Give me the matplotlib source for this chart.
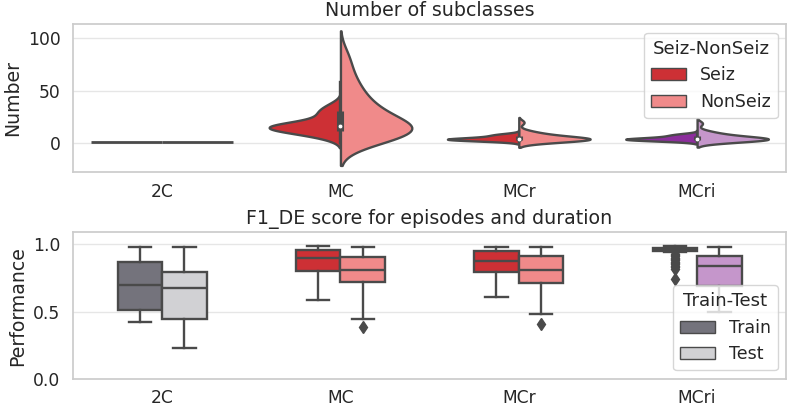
import numpy as np
import matplotlib
matplotlib.use('Agg')
import matplotlib.pyplot as plt
from matplotlib.patches import Patch

# categories
categories = ['2C', 'MC', 'MCr', 'MCri']

# number of subclasses (Seiz / NonSeiz) per category
seiz_2c = [1, 1, 1, 1, 1, 1]
nonseiz_2c = [1, 1, 1, 1, 1, 1]
seiz_mc = [5, 8, 10, 11, 12, 13, 14, 15, 15, 16, 16, 17, 17, 18, 19, 21, 25, 28, 30, 33, 37]
nonseiz_mc = [0, 2, 3, 5, 6, 7, 8, 9, 10, 11, 12, 12, 13, 14, 14, 15, 16, 17, 18, 19,
              20, 21, 23, 25, 27, 29, 31, 33, 35, 37, 40, 43, 46, 50, 54, 58, 63, 70, 78, 86]
seiz_mcr = [2, 3, 3, 4, 4, 4, 4, 5, 5, 6, 7, 8, 9]
nonseiz_mcr = [1, 2, 2, 3, 3, 3, 4, 4, 4, 4, 5, 5, 5, 6, 6, 7, 8, 9, 10, 12, 20]
seiz_mcri = [2, 3, 3, 4, 4, 4, 4, 5, 5, 6, 7, 8, 9]
nonseiz_mcri = [1, 2, 2, 3, 3, 3, 4, 4, 4, 4, 5, 5, 5, 6, 6, 7, 8, 9, 10, 12, 19]

seiz_all = [seiz_2c, seiz_mc, seiz_mcr, seiz_mcri]
nonseiz_all = [nonseiz_2c, nonseiz_mc, nonseiz_mcr, nonseiz_mcri]

# F1_DE box statistics (Train / Test) per category
train_whislo = [0.42, 0.59, 0.61, 0.94]
train_q1 = [0.515, 0.805, 0.795, 0.952]
train_med = [0.695, 0.895, 0.878, 0.963]
train_q3 = [0.868, 0.955, 0.948, 0.975]
train_whishi = [0.98, 0.985, 0.982, 0.985]
train_fliers = [[], [], [], [0.93, 0.92, 0.91, 0.90, 0.89, 0.88, 0.87, 0.86, 0.85, 0.84, 0.83, 0.82, 0.74]]

test_whislo = [0.23, 0.448, 0.48, 0.50]
test_q1 = [0.443, 0.719, 0.714, 0.694]
test_med = [0.677, 0.812, 0.812, 0.837]
test_q3 = [0.792, 0.903, 0.911, 0.916]
test_whishi = [0.98, 0.977, 0.98, 0.98]
test_fliers = [[], [0.386], [0.406], []]

# colours
c_dark = ['#74737c', '#cd3035', '#cd3035', '#8c2e9c']
c_light = ['#d1d1d4', '#f08a8a', '#f08a8a', '#c596cb']
gray = '#4a4a4a'
lw = 1.7

plt.rcParams.update({
    'font.family': 'DejaVu Sans',
    'font.size': 12.3,
    'text.color': '#262626',
    'axes.labelcolor': '#262626',
    'xtick.color': '#262626',
    'ytick.color': '#262626',
    'axes.edgecolor': '#cccccc',
    'axes.linewidth': 1.25,
    'grid.color': '#e6e6e6',
    'grid.linewidth': 1.0,
})


def kde(data, gridsize=100, cut=2):
    data = np.asarray(data, float)
    bw = data.std(ddof=1) * len(data) ** (-1 / 5)
    support = np.linspace(data.min() - cut * bw, data.max() + cut * bw, gridsize)
    dens = np.exp(-0.5 * ((support[:, None] - data[None, :]) / bw) ** 2).sum(axis=1)
    return support, dens / dens.max()


fig = plt.figure(figsize=(7.89, 4.08), dpi=100)
ax1 = fig.add_axes([0.0925, 0.578, 0.904, 0.363])
ax2 = fig.add_axes([0.0925, 0.071, 0.904, 0.360])

# violins (split: Seiz left, NonSeiz right)
for i in range(len(categories)):
    halves = [(seiz_all[i], c_dark[i], -1), (nonseiz_all[i], c_light[i], 1)]
    for vals, col, sgn in halves:
        vals = np.asarray(vals, float)
        if np.ptp(vals) == 0:
            ax1.plot([i, i + sgn * 0.4], [vals[0], vals[0]], color=gray, lw=2, solid_capstyle='butt')
            continue
        y, d = kde(vals)
        ax1.fill_betweenx(y, i, i + sgn * 0.4 * d, facecolor=col, edgecolor=gray, lw=lw, zorder=2)
    allv = np.concatenate([seiz_all[i], nonseiz_all[i]]).astype(float)
    if np.ptp(allv) == 0:
        continue
    q25, q50, q75 = np.percentile(allv, [25, 50, 75])
    lim = 1.5 * (q75 - q25)
    h1 = allv[allv >= q25 - lim].min()
    h2 = allv[allv <= q75 + lim].max()
    ax1.plot([i, i], [h1, h2], color=gray, lw=lw, zorder=3)
    ax1.plot([i, i], [q25, q75], color=gray, lw=lw * 3, zorder=3, solid_capstyle='butt')
    ax1.scatter([i], [q50], s=(lw * 2) ** 2, color='white', edgecolor=gray, lw=0.5, zorder=4)

ax1.set_title('Number of subclasses', fontsize=13.7)
ax1.set_ylabel('Number', fontsize=13.6)
ax1.legend(handles=[Patch(facecolor=c_dark[1], edgecolor=gray, label='Seiz'),
                    Patch(facecolor=c_light[1], edgecolor=gray, label='NonSeiz')],
           title='Seiz-NonSeiz', loc='upper right', fontsize=12.5, title_fontsize=13.1)

# box plots
for i in range(len(categories)):
    for off, col, wl, q1, md, q3, wh, fl in [
        (-0.125, c_dark[i], train_whislo[i], train_q1[i], train_med[i], train_q3[i], train_whishi[i], train_fliers[i]),
        (0.125, c_light[i], test_whislo[i], test_q1[i], test_med[i], test_q3[i], test_whishi[i], test_fliers[i]),
    ]:
        st = dict(whislo=wl, q1=q1, med=md, q3=q3, whishi=wh, fliers=fl)
        ax2.bxp([st], positions=[i + off], widths=0.25, patch_artist=True, showfliers=True,
                boxprops=dict(facecolor=col, edgecolor=gray, lw=lw),
                whiskerprops=dict(color=gray, lw=lw),
                capprops=dict(color=gray, lw=lw),
                medianprops=dict(color=gray, lw=lw),
                flierprops=dict(marker='d', markerfacecolor=gray, markeredgecolor=gray, markersize=6.5))

ax2.set_title('F1_DE score for episodes and duration', fontsize=13.7)
ax2.set_ylabel('Performance', fontsize=13.6)
ax2.set_ylim(0, 1.09)
ax2.set_yticks([0.0, 0.5, 1.0])
ax2.legend(handles=[Patch(facecolor=c_dark[0], edgecolor=gray, label='Train'),
                    Patch(facecolor=c_light[0], edgecolor=gray, label='Test')],
           title='Train-Test', loc='lower right', fontsize=12.5, title_fontsize=13.1)

for ax in (ax1, ax2):
    ax.set_xlim(-0.5, 3.5)
    ax.set_xticks(range(len(categories)))
    ax.set_xticklabels(categories)
    ax.tick_params(axis='both', length=0, labelsize=12.3)
    ax.tick_params(axis='x', pad=7.5)
    ax.tick_params(axis='y', pad=9)
    ax.yaxis.grid(True)
    ax.xaxis.grid(False)
    ax.set_axisbelow(True)
    for s in ax.spines.values():
        s.set_color('#cccccc')

fig.savefig('out.png', dpi=100)
